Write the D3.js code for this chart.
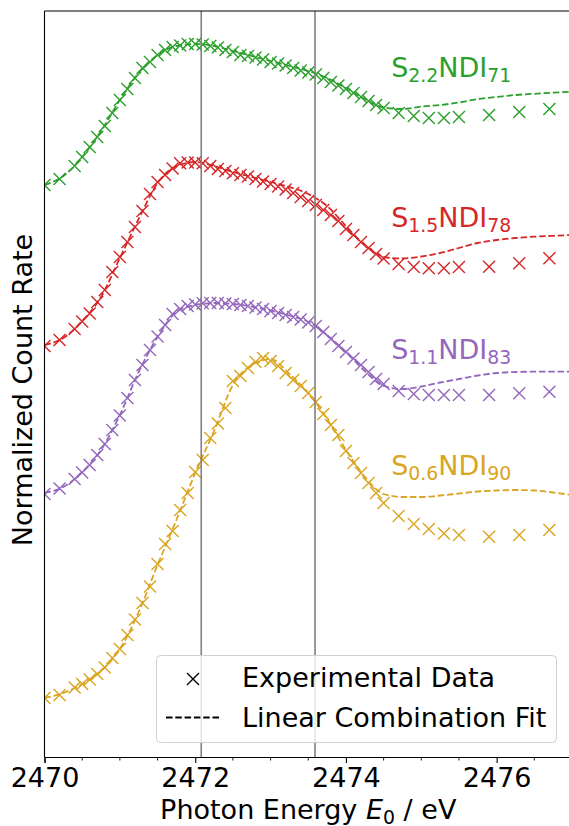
<!DOCTYPE html>
<html>
<head>
<meta charset="utf-8">
<script src="https://cdn.jsdelivr.net/npm/d3@7/dist/d3.min.js"></script>
<style>
  body { margin: 0; background: #fff; }
  svg  { display: block; font-family: "DejaVu Sans", sans-serif; }
</style>
</head>
<body>
<svg id="chart" width="569" height="826"></svg>
<script>
// Measured energies (eV) of the experimental scan
const energies = [
  2470.0, 2470.2, 2470.4, 2470.5, 2470.6, 2470.7, 2470.8, 2470.9, 2471.0, 2471.1,
  2471.2, 2471.3, 2471.4, 2471.5, 2471.6, 2471.7, 2471.8, 2471.9, 2472.0, 2472.1,
  2472.2, 2472.3, 2472.4, 2472.5, 2472.6, 2472.7, 2472.8, 2472.9, 2473.0, 2473.1,
  2473.2, 2473.3, 2473.4, 2473.5, 2473.6, 2473.7, 2473.8, 2473.9, 2474.0, 2474.1,
  2474.2, 2474.3, 2474.4, 2474.5, 2474.7, 2474.9, 2475.1, 2475.3, 2475.5, 2475.9,
  2476.3, 2476.7
];

// Energies on which the linear combination fit is evaluated
const fitEnergies = [
  2470.00, 2470.25, 2470.50, 2470.75, 2471.00, 2471.25, 2471.50, 2471.75, 2472.00, 2472.25,
  2472.50, 2472.75, 2473.00, 2473.25, 2473.50, 2473.75, 2474.00, 2474.25, 2474.50, 2474.75,
  2475.00, 2475.25, 2475.50, 2475.75, 2476.00, 2476.25, 2476.50, 2476.75, 2477.00
];

// Normalized count rate (stacked with offsets), experimental data
const s22Data = [
  5.72, 5.78, 5.91, 6.00, 6.10, 6.20, 6.31, 6.44, 6.57, 6.68,
  6.79, 6.89, 6.95, 7.02, 7.07, 7.10, 7.115, 7.13, 7.13, 7.125,
  7.11, 7.095, 7.07, 7.05, 7.02, 7.01, 6.995, 6.975, 6.95, 6.935,
  6.915, 6.89, 6.865, 6.845, 6.825, 6.79, 6.75, 6.715, 6.68, 6.64,
  6.60, 6.56, 6.52, 6.49, 6.44, 6.41, 6.39, 6.39, 6.40, 6.42,
  6.45, 6.48
];
const s15Data = [
  4.11, 4.17, 4.28, 4.355, 4.435, 4.55, 4.67, 4.85, 5.00, 5.15,
  5.30, 5.46, 5.63, 5.75, 5.82, 5.885, 5.937, 5.945, 5.945, 5.937,
  5.91, 5.88, 5.86, 5.837, 5.82, 5.805, 5.78, 5.755, 5.73, 5.705,
  5.675, 5.64, 5.60, 5.56, 5.52, 5.47, 5.42, 5.36, 5.28, 5.22,
  5.15, 5.09, 5.03, 4.985, 4.93, 4.90, 4.887, 4.887, 4.90, 4.903,
  4.937, 4.987
];
const s11Data = [
  2.63, 2.685, 2.78, 2.845, 2.92, 3.02, 3.13, 3.27, 3.415, 3.59,
  3.77, 3.92, 4.07, 4.205, 4.32, 4.43, 4.48, 4.51, 4.525, 4.537,
  4.54, 4.54, 4.535, 4.53, 4.52, 4.51, 4.495, 4.48, 4.46, 4.44,
  4.42, 4.40, 4.375, 4.345, 4.31, 4.25, 4.18, 4.11, 4.05, 3.985,
  3.92, 3.85, 3.78, 3.73, 3.66, 3.63, 3.62, 3.62, 3.62, 3.62,
  3.637, 3.653
];
const s06Data = [
  0.59, 0.62, 0.695, 0.73, 0.775, 0.83, 0.895, 0.99, 1.08, 1.22,
  1.375, 1.54, 1.705, 1.93, 2.13, 2.26, 2.47, 2.64, 2.85, 2.97,
  3.19, 3.335, 3.49, 3.76, 3.81, 3.89, 3.95, 3.99, 3.96, 3.91,
  3.84, 3.77, 3.71, 3.64, 3.55, 3.43, 3.32, 3.22, 3.06, 2.94,
  2.84, 2.74, 2.64, 2.54, 2.41, 2.33, 2.28, 2.235, 2.22, 2.203,
  2.22, 2.27
];

// Linear combination fits
const s22Fit = [
  5.72, 5.81, 6.00, 6.26, 6.57, 6.84, 7.02, 7.11, 7.13, 7.11,
  7.06, 7.01, 6.96, 6.91, 6.86, 6.79, 6.69, 6.58, 6.495, 6.48,
  6.505, 6.52, 6.545, 6.58, 6.60, 6.62, 6.632, 6.644, 6.653
];
const s15Fit = [
  4.12, 4.19, 4.36, 4.60, 4.99, 5.38, 5.74, 5.91, 5.95, 5.91,
  5.85, 5.80, 5.75, 5.70, 5.63, 5.51, 5.31, 5.12, 5.00, 4.985,
  5.005, 5.04, 5.09, 5.14, 5.17, 5.19, 5.203, 5.212, 5.22
];
const s11Fit = [
  2.64, 2.70, 2.85, 3.07, 3.42, 3.85, 4.20, 4.45, 4.52, 4.54,
  4.53, 4.505, 4.465, 4.415, 4.35, 4.22, 4.05, 3.86, 3.71, 3.68,
  3.705, 3.745, 3.78, 3.815, 3.84, 3.85, 3.853, 3.853, 3.853
];
const s06Fit = [
  0.59, 0.64, 0.73, 0.86, 1.08, 1.45, 1.92, 2.37, 2.84, 3.26,
  3.72, 3.92, 3.98, 3.83, 3.64, 3.38, 3.07, 2.80, 2.63, 2.60,
  2.60, 2.615, 2.635, 2.655, 2.665, 2.67, 2.665, 2.645, 2.62
];

// Sample names: S_{sulfur}NDI_{ndi}
const sulfurSubs = ["2.2", "1.5", "1.1", "0.6"];
const ndiSubs    = ["71", "78", "83", "90"];

// Reference energies marked by vertical lines
const markerEnergies = [2472.08, 2473.59];

// Tick values
const majorTicks = [2470, 2472, 2474, 2476];
const minorTicks = d3.range(2470, 2477.01, 0.5);

drawChart();

function drawChart() {
  let plotLeft   = 44.5,
      plotRight  = 572,
      plotTop    = 11,
      plotBottom = 757,
      fontSize   = 27,
      subSize    = fontSize * 0.7,
      colors     = ["#2ca02c", "#d62728", "#9467bd", "#daa520"],
      dataSets   = [s22Data, s15Data, s11Data, s06Data],
      fitSets    = [s22Fit, s15Fit, s11Fit, s06Fit],
      labelY     = [6.80, 5.30, 3.98, 2.82],   // label baselines (data units)
      labelE     = 2474.60,
      x          = d3.scaleLinear().domain([2470, 2477]).range([plotLeft, plotRight]),
      y          = d3.scaleLinear().domain([0, 7.46]).range([plotBottom, plotTop]),
      svg        = d3.select("#chart");

  svg.append("defs").append("clipPath").attr("id", "plotClip")
    .append("rect")
      .attr("x", plotLeft).attr("y", plotTop)
      .attr("width", plotRight - plotLeft).attr("height", plotBottom - plotTop);

  let plot = svg.append("g").attr("clip-path", "url(#plotClip)");

  let fitLine = d3.line()
    .x((d, i) => x(fitEnergies[i]))
    .y(d => y(d))
    .curve(d3.curveMonotoneX);

  let crossPath = "M-6,-6L6,6M-6,6L6,-6";

  // Experimental data (x markers) and fits (dashed)
  dataSets.forEach((series, k) => {
    plot.append("g")
      .selectAll("path")
      .data(series)
      .enter().append("path")
        .attr("d", crossPath)
        .attr("transform", (d, i) => "translate(" + x(energies[i]) + "," + y(d) + ")")
        .attr("stroke", colors[k])
        .attr("stroke-width", 1.4)
        .attr("fill", "none");

    plot.append("path")
      .datum(fitSets[k])
      .attr("d", fitLine)
      .attr("fill", "none")
      .attr("stroke", colors[k])
      .attr("stroke-width", 1.8)
      .attr("stroke-dasharray", "6.5,2.8");
  });

  // Vertical reference lines
  plot.selectAll(".vline")
    .data(markerEnergies)
    .enter().append("line")
      .attr("class", "vline")
      .attr("x1", d => x(d)).attr("x2", d => x(d))
      .attr("y1", plotTop).attr("y2", plotBottom)
      .attr("stroke", "#808080")
      .attr("stroke-width", 1.6);

  // Sample labels
  dataSets.forEach((series, k) => {
    let t = svg.append("text")
      .attr("x", x(labelE))
      .attr("y", y(labelY[k]))
      .attr("fill", colors[k])
      .style("font-size", fontSize + "px");
    t.append("tspan").text("S");
    t.append("tspan").attr("dy", 5).style("font-size", subSize + "px").text(sulfurSubs[k]);
    t.append("tspan").attr("dy", -5).text("NDI");
    t.append("tspan").attr("dy", 5).style("font-size", subSize + "px").text(ndiSubs[k]);
  });

  // Spines
  svg.append("line")
    .attr("x1", plotLeft).attr("x2", plotLeft)
    .attr("y1", plotTop).attr("y2", plotBottom)
    .attr("stroke", "#000").attr("stroke-width", 1.1);
  svg.append("line")
    .attr("x1", plotLeft).attr("x2", plotRight)
    .attr("y1", plotTop).attr("y2", plotTop)
    .attr("stroke", "#000").attr("stroke-width", 1.1);

  // X axis
  let xAxis = svg.append("g")
    .attr("transform", "translate(0," + plotBottom + ")")
    .call(d3.axisBottom(x).tickValues(majorTicks).tickFormat(d3.format("d")).tickSize(6).tickPadding(5));

  xAxis.select(".domain").attr("stroke-width", 1.1);
  xAxis.selectAll(".tick line").attr("stroke-width", 1.1);
  xAxis.selectAll("text")
    .attr("fill", "#000")
    .style("font-size", fontSize + "px")
    .style("font-family", "DejaVu Sans, sans-serif");

  svg.append("g")
    .attr("transform", "translate(0," + plotBottom + ")")
    .selectAll("line")
    .data(minorTicks.filter(d => !majorTicks.includes(d)))
    .enter().append("line")
      .attr("x1", d => x(d)).attr("x2", d => x(d))
      .attr("y1", 0).attr("y2", 3.5)
      .attr("stroke", "#000").attr("stroke-width", 0.9);

  // Axis labels
  let xLabel = svg.append("text")
    .attr("x", (plotLeft + plotRight) / 2)
    .attr("y", 819)
    .attr("text-anchor", "middle")
    .style("font-size", fontSize + "px");
  xLabel.append("tspan").text("Photon Energy ");
  xLabel.append("tspan").style("font-style", "italic").text("E");
  xLabel.append("tspan").attr("dy", 5).style("font-size", subSize + "px").text("0");
  xLabel.append("tspan").attr("dy", -5).text(" / eV");

  svg.append("text")
    .attr("transform", "translate(32," + ((plotTop + plotBottom) / 2 + 6) + ") rotate(-90)")
    .attr("text-anchor", "middle")
    .style("font-size", fontSize + "px")
    .text("Normalized Count Rate");

  // Legend
  let legend = svg.append("g");
  legend.append("rect")
    .attr("x", 156.5).attr("y", 655.5)
    .attr("width", 400).attr("height", 87)
    .attr("rx", 4)
    .attr("fill", "#fff").attr("fill-opacity", 0.8)
    .attr("stroke", "#d0d0d0").attr("stroke-width", 1);

  legend.append("path")
    .attr("d", crossPath)
    .attr("transform", "translate(193,679)")
    .attr("stroke", "#000").attr("stroke-width", 1.4).attr("fill", "none");

  legend.append("line")
    .attr("x1", 166).attr("x2", 220)
    .attr("y1", 717.5).attr("y2", 717.5)
    .attr("stroke", "#000").attr("stroke-width", 1.8)
    .attr("stroke-dasharray", "6.5,2.8");

  legend.append("text")
    .attr("x", 242).attr("y", 687)
    .style("font-size", fontSize + "px")
    .text("Experimental Data");
  legend.append("text")
    .attr("x", 242).attr("y", 727)
    .style("font-size", fontSize + "px")
    .text("Linear Combination Fit");
}
</script>
</body>
</html>
